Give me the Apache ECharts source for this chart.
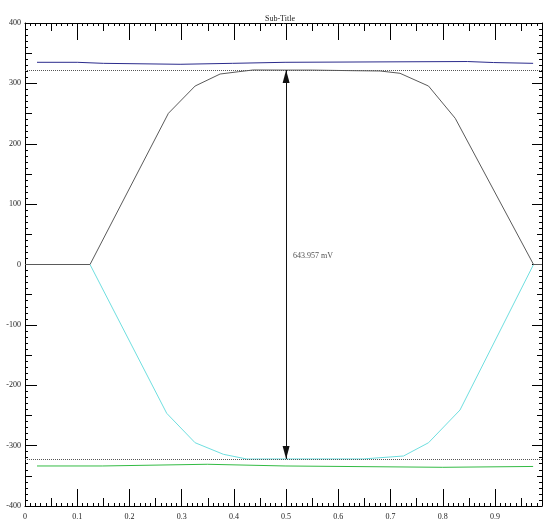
<!DOCTYPE html>
<html>
<head>
<meta charset="utf-8">
<script src="https://cdn.jsdelivr.net/npm/echarts@6/dist/echarts.min.js"></script>
<style>
html,body{margin:0;padding:0;background:#fff;}
#chart{width:544px;height:519px;}
</style>
</head>
<body>
<div id="chart"></div>
<script>
// ---- data ----
const titleText = 'Sub-Title';
const upperX = [0, 0.1245, 0.2746, 0.3257, 0.3736, 0.4087, 0.437, 0.5, 0.55, 0.63, 0.68, 0.718, 0.7727, 0.8238, 0.9738, 0.99];
const upperY = [0, 0, 250.4, 295.6, 315.5, 319.3, 322.2, 322, 322, 321, 320.5, 316.7, 295.6, 242.2, 0, 0];
const lowerX = [0.1245, 0.2714, 0.3257, 0.380, 0.4247, 0.5, 0.648, 0.7248, 0.7727, 0.833, 0.9738];
const lowerY = [0, -246.5, -295.2, -314.4, -322.2, -322, -322, -317.2, -295.2, -241, 0];
const blueX = [0.023, 0.1, 0.15, 0.297, 0.397, 0.498, 0.847, 0.897, 0.973];
const blueY = [334.9, 333.2, 331.6, 333.2, 334.9, 336.2, 334.5, 333.2, 333.2];
const greenX = [0.023, 0.148, 0.349, 0.498, 0.8, 0.973];
const greenY = [-333.7, -330.9, -333.7, -335.9, -334.5, -334.5];
const spanHalf = 321.98;
const spanX = 0.5;
const spanLabel = '643.957 mV';
const spanLabelY = 14;
const xMin = 0, xMax = 0.99, xStep = 0.1, xMid = 0.05;
const yMin = -400, yMax = 400, yStep = 100, yMid = 50;

const zip = (xs, ys) => xs.map((x, i) => [x, ys[i]]);
const FONT = 'Liberation Serif';

function xAx(position, interval, tickLen, withLabels, withLine) {
  return {
    type: 'value', position, min: xMin, max: xMax, interval,
    axisLine: { show: withLine, onZero: false, lineStyle: { color: '#000', width: 1 } },
    axisTick: { show: true, inside: true, length: tickLen, lineStyle: { color: '#000', width: 1 } },
    minorTick: { show: withLine, splitNumber: 10, length: 3, lineStyle: { color: '#000', width: 1 } },
    axisLabel: { show: withLabels, fontSize: 8, fontFamily: FONT, color: '#222', margin: 7, showMaxLabel: false },
    splitLine: { show: false }, minorSplitLine: { show: false }
  };
}
function yAx(position, interval, tickLen, minorLen, withLabels, withLine) {
  return {
    type: 'value', position, min: yMin, max: yMax, interval,
    axisLine: { show: withLine, onZero: false, lineStyle: { color: '#000', width: 1 } },
    axisTick: { show: true, inside: true, length: tickLen, lineStyle: { color: '#000', width: 1 } },
    minorTick: { show: withLine, splitNumber: 10, length: minorLen, lineStyle: { color: '#000', width: 1 } },
    axisLabel: { show: withLabels, fontSize: 8, fontFamily: FONT, color: '#222', margin: 4 },
    splitLine: { show: false }, minorSplitLine: { show: false }
  };
}

const chart = echarts.init(document.getElementById('chart'));
chart.setOption({
  animation: false,
  backgroundColor: '#fff',
  title: { text: titleText, left: 260, top: 10, textStyle: { fontSize: 8, fontWeight: 'normal', fontFamily: FONT, color: '#222' } },
  grid: { left: 25, right: 2, top: 23, bottom: 13, containLabel: false, outerBoundsMode: 'none' },
  xAxis: [
    xAx('bottom', xStep, 17, true, true),
    xAx('bottom', xMid, 8, false, false),
    xAx('top', xStep, 17, false, true),
    xAx('top', xMid, 8, false, false)
  ],
  yAxis: [
    yAx('left', yStep, 12, 3, true, true),
    yAx('left', yMid, 7, 3, false, false),
    yAx('right', yStep, 10, 3, false, true),
    yAx('right', yMid, 5, 3, false, false)
  ],
  series: [
    {
      type: 'line', data: zip(blueX, blueY), step: 'end', showSymbol: false, silent: true,
      lineStyle: { color: '#2b2b8c', width: 1 }
    },
    {
      type: 'line', data: zip(greenX, greenY), step: 'end', showSymbol: false, silent: true,
      lineStyle: { color: '#33bb44', width: 1 }
    },
    {
      type: 'line', data: zip(lowerX, lowerY), showSymbol: false, silent: true,
      lineStyle: { color: '#6fdfe0', width: 1 }
    },
    {
      type: 'line', data: zip(upperX, upperY), showSymbol: false, silent: true,
      lineStyle: { color: '#5a5a5a', width: 1 },
      markLine: {
        silent: true, symbol: ['none', 'none'], label: { show: false },
        lineStyle: { color: '#555', type: 'dotted', width: 1 },
        data: [{ yAxis: spanHalf }, { yAxis: -spanHalf }]
      }
    },
    {
      type: 'scatter', data: [[spanX, spanLabelY]], symbolSize: 0, silent: true,
      label: { show: true, position: 'right', distance: 7, formatter: spanLabel, fontSize: 8, fontFamily: FONT, color: '#222' },
      markLine: {
        silent: true, symbol: ['triangle', 'triangle'], symbolSize: [7, 13],
        symbolOffset: [[0, 6.5], [0, 6.5]],
        label: { show: false },
        lineStyle: { color: '#111', type: 'solid', width: 1 },
        data: [[{ coord: [spanX, spanHalf] }, { coord: [spanX, -spanHalf] }]]
      }
    }
  ]
});
</script>
</body>
</html>
